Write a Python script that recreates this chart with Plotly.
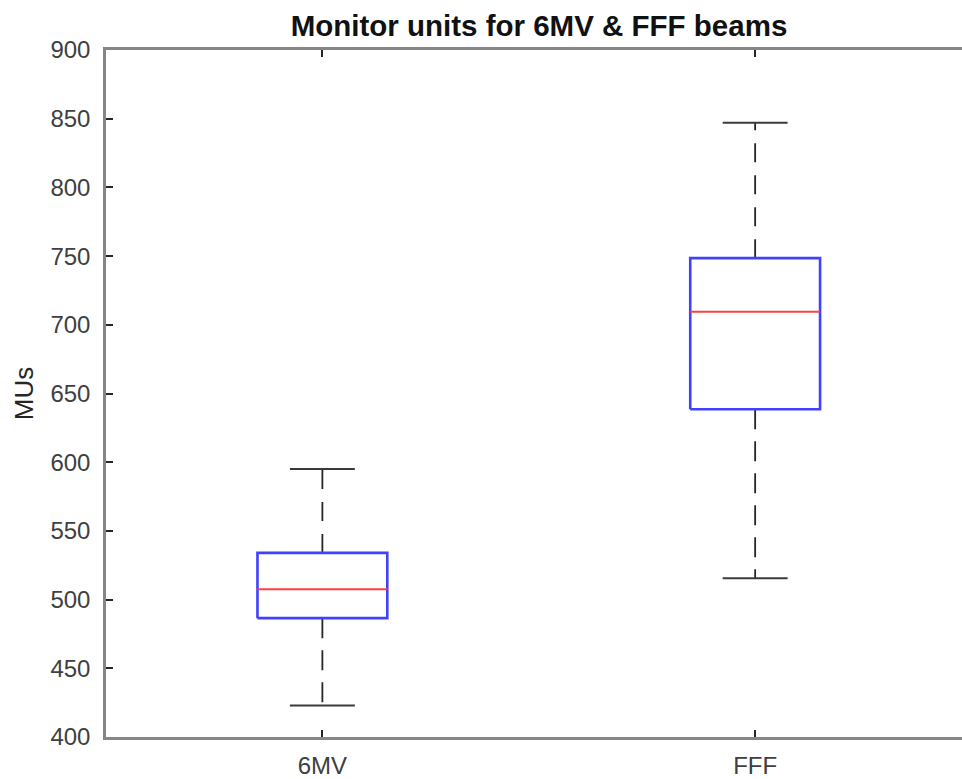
import plotly.graph_objects as go

categories = ["6MV", "FFF"]
positions = [1, 2]
lower_whisker = [423, 515.5]
q1 = [486.5, 638.5]
median = [507.5, 709.5]
q3 = [534, 748.5]
upper_whisker = [595, 847]
yticks = [400, 450, 500, 550, 600, 650, 700, 750, 800, 850, 900]

BOX_HALF = 0.15
CAP_HALF = 0.075

fig = go.Figure()
for i, p in enumerate(positions):
    # whiskers (dashed)
    fig.add_trace(go.Scatter(x=[p, p], y=[q3[i], upper_whisker[i]], mode="lines",
                             line=dict(color="#262626", width=1.8, dash="19px,13px"),
                             hoverinfo="skip", showlegend=False))
    fig.add_trace(go.Scatter(x=[p, p], y=[q1[i], lower_whisker[i]], mode="lines",
                             line=dict(color="#262626", width=1.8, dash="20px,12px"),
                             hoverinfo="skip", showlegend=False))
    # caps
    for v in (upper_whisker[i], lower_whisker[i]):
        fig.add_trace(go.Scatter(x=[p - CAP_HALF, p + CAP_HALF], y=[v, v], mode="lines",
                                 line=dict(color="#3a3a3a", width=2),
                                 hoverinfo="skip", showlegend=False))
    # box
    fig.add_trace(go.Scatter(x=[p - BOX_HALF, p + BOX_HALF, p + BOX_HALF, p - BOX_HALF, p - BOX_HALF],
                             y=[q1[i], q1[i], q3[i], q3[i], q1[i]], mode="lines",
                             line=dict(color="#4040ff", width=2.6),
                             hoverinfo="skip", showlegend=False))
    # median
    fig.add_trace(go.Scatter(x=[p - BOX_HALF, p + BOX_HALF], y=[median[i], median[i]], mode="lines",
                             line=dict(color="#ff4040", width=2),
                             hoverinfo="skip", showlegend=False))

axis_font = dict(family="Liberation Sans, Arial, sans-serif", size=24, color="#404040")
fig.update_layout(
    width=962, height=779,
    margin=dict(l=106, r=0, t=50, b=42),
    paper_bgcolor="white", plot_bgcolor="white",
    title=dict(text="<b>Monitor units for 6MV & FFF beams</b>",
               font=dict(family="Liberation Sans, Arial, sans-serif", size=29.5, color="#111111"),
               xref="container", x=539 / 962, xanchor="center",
               yref="container", y=1 - 26 / 779, yanchor="middle"),
    xaxis=dict(range=[0.5, 2.478], tickvals=positions, ticktext=categories,
               showgrid=False, zeroline=False, showline=True, linecolor="#868686", linewidth=2.5,
               mirror="ticks", ticks="inside", ticklen=7, tickwidth=1.5, tickcolor="#262626",
               tickfont=axis_font, ticklabelstandoff=5),
    yaxis=dict(range=[400, 900], tickvals=yticks,
               showgrid=False, zeroline=False, showline=True, linecolor="#868686", linewidth=2.5,
               ticks="inside", ticklen=7, tickwidth=1.5, tickcolor="#262626",
               tickfont=axis_font, ticklabelstandoff=8,
               title=dict(text="MUs", font=dict(family="Liberation Sans, Arial, sans-serif",
                                                size=26, color="#262626"), standoff=10)),
)
fig.write_html("out.html")
